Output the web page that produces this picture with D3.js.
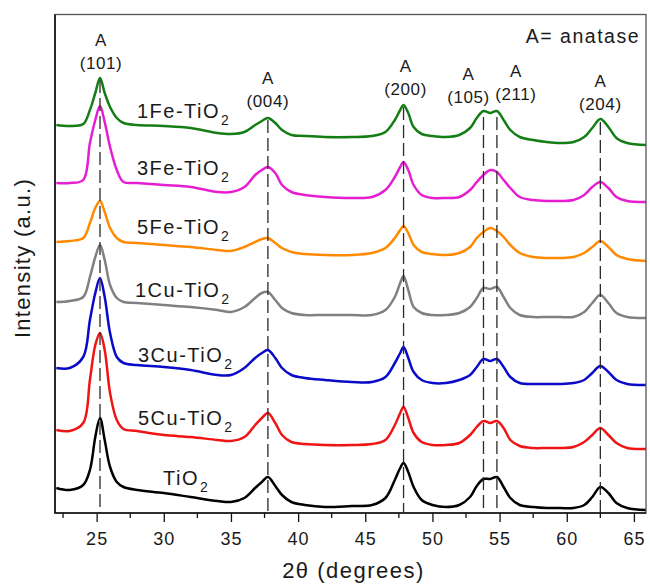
<!DOCTYPE html>
<html>
<head>
<meta charset="utf-8">
<script src="https://cdn.jsdelivr.net/npm/d3@7"></script>
<style>
    body { margin: 0; background: #fff; }
    text { font-family: Arial, "Liberation Sans", sans-serif; fill: #1a1a1a; }
</style>
</head>
<body>
<svg width="650" height="585"></svg>
<script>
    // 2-theta sample positions shared by every pattern
    var theta = [22, 23, 24, 24.5, 24.9, 25.25, 25.6, 26, 26.5, 27,
        28, 30, 32, 34, 35, 36, 36.8, 37.3, 37.75, 38.3,
        38.8, 39.5, 40.5, 42, 44, 45.5, 46.5, 47.2, 47.6, 47.85,
        48.2, 48.6, 49.2, 50, 51, 52, 52.8, 53.3, 53.8, 54.3,
        54.8, 55.3, 55.8, 56.5, 57.5, 58.5, 59.5, 60.5, 61.3, 61.9,
        62.5, 63.1, 63.7, 64.5, 65.9];

    // stacked intensities (offsets included)
    var fe1 = [388, 387, 389, 403, 420, 435, 420, 406, 395, 390,
        388, 387, 385, 380, 379, 381, 388, 392, 395, 390,
        383, 378, 377, 376, 376, 377, 381, 393, 403, 408,
        400, 386, 379, 377, 376, 378, 385, 395, 402, 400,
        402, 393, 383, 376, 373, 371, 370, 371, 376, 385,
        394, 386, 375, 370, 368];
    var fe3 = [330, 330, 333, 370, 393, 407, 391, 366, 343, 331,
        330, 328, 326, 321, 321, 326, 338, 343, 346, 340,
        328, 321, 318, 316, 315, 316, 323, 336, 346, 351,
        343, 328, 318, 315, 315, 316, 323, 331, 338, 343,
        341, 333, 325, 316, 313, 312, 312, 313, 318, 326,
        331, 325, 316, 312, 311];
    var fe5 = [271, 272, 275, 290, 305, 312, 301, 285, 275, 271,
        270, 268, 266, 263, 262, 266, 271, 274, 275, 270,
        265, 261, 259, 258, 258, 260, 265, 275, 283, 287,
        280, 268, 261, 259, 258, 260, 266, 275, 281, 285,
        282, 276, 268, 260, 256, 255, 255, 256, 260, 266,
        272, 266, 258, 254, 252];
    var cu1 = [211, 212, 216, 236, 256, 268, 253, 228, 215, 211,
        210, 208, 206, 203, 201, 206, 215, 220, 221, 213,
        205, 200, 198, 198, 198, 198, 203, 216, 230, 237,
        223, 206, 200, 198, 198, 200, 206, 215, 225, 224,
        226, 216, 205, 198, 196, 196, 196, 196, 201, 210,
        218, 210, 200, 196, 195];
    var cu3 = [145, 145, 156, 193, 220, 235, 216, 180, 156, 150,
        148, 146, 143, 138, 138, 145, 155, 160, 163, 155,
        145, 138, 135, 133, 131, 131, 136, 150, 160, 166,
        155, 141, 133, 130, 130, 133, 138, 146, 154, 152,
        154, 146, 136, 130, 129, 129, 129, 130, 133, 140,
        147, 141, 133, 129, 128];
    var cu5 = [83, 82, 90, 133, 168, 180, 163, 120, 93, 84,
        82, 78, 76, 73, 72, 76, 88, 95, 100, 90,
        78, 71, 69, 68, 68, 69, 73, 88, 100, 106,
        95, 80, 71, 68, 68, 70, 78, 86, 92, 90,
        92, 85, 73, 67, 65, 65, 65, 66, 71, 78,
        85, 78, 70, 65, 64];
    var tio2 = [25, 23, 28, 43, 76, 95, 73, 46, 31, 26,
        23, 20, 16, 12, 11, 15, 25, 31, 36, 27,
        18, 11, 8, 6, 7, 8, 15, 33, 45, 50,
        41, 26, 13, 8, 6, 8, 16, 27, 34, 34,
        36, 26, 15, 8, 6, 5, 5, 5, 8, 16,
        26, 20, 10, 5, 3];

    var sampleNames = ["1Fe-TiO", "3Fe-TiO", "5Fe-TiO", "1Cu-TiO", "3Cu-TiO", "5Cu-TiO", "TiO"];
    var sampleSeries = [fe1, fe3, fe5, cu1, cu3, cu5, tio2];
    var sampleColors = ["#157d15", "#e61ed2", "#ff8a00", "#808080", "#0a0ac8", "#f01414", "#000000"];

    var peakTheta = [25.25, 37.75, 47.85, 53.8, 54.8, 62.5];
    var peakHkl = ["(101)", "(004)", "(200)", "(105)", "(211)", "(204)"];
    var xTicks = [25, 30, 35, 40, 45, 50, 55, 60, 65];

    var svg = d3.select("svg"),
        plotLeft = 55, plotRight = 646, plotTop = 14.5, plotBottom = 513;

    var x = d3.scaleLinear().domain([21.9, 65.9]).range([plotLeft, plotRight]);
    var y = d3.scaleLinear().domain([0, 498.5]).range([plotBottom, plotTop]);

    svg.append("clipPath").attr("id", "plot")
        .append("rect").attr("x", plotLeft).attr("y", plotTop)
        .attr("width", plotRight - plotLeft).attr("height", plotBottom - plotTop);

    var line = d3.line()
        .x(function (d) { return x(d[0]); })
        .y(function (d) { return y(d[1]); })
        .curve(d3.curveCatmullRom.alpha(0.5));

    svg.append("g")
        .attr("clip-path", "url(#plot)")
        .selectAll("path")
        .data(sampleSeries)
        .enter()
            .append("path")
            .attr("d", function (s) { return line(s.map(function (v, i) { return [theta[i], v]; })); })
            .attr("fill", "none")
            .attr("stroke", function (s, i) { return sampleColors[i]; })
            .attr("stroke-width", 2.5)
            .attr("stroke-linejoin", "round");

    // dashed reference lines start at the top pattern's peak
    var dashTop = [80, 120, 107, 117, 117, 122];
    svg.append("g")
        .selectAll("line")
        .data(peakTheta)
        .enter()
            .append("line")
            .attr("x1", function (d) { return x(d); })
            .attr("x2", function (d) { return x(d); })
            .attr("y1", function (d, i) { return dashTop[i]; })
            .attr("y2", plotBottom)
            .attr("stroke", "#2a2a2a")
            .attr("stroke-width", 1.3)
            .attr("stroke-dasharray", "13,5");

    // frame
    svg.append("rect")
        .attr("x", plotLeft).attr("y", plotTop)
        .attr("width", plotRight - plotLeft).attr("height", plotBottom - plotTop)
        .attr("fill", "none").attr("stroke", "#555").attr("stroke-width", 1.3);
    svg.append("path")
        .attr("d", "M" + plotLeft + "," + plotTop + "V" + plotBottom + "H" + plotRight)
        .attr("fill", "none").attr("stroke", "#111").attr("stroke-width", 1.6);

    var xAxis = d3.axisBottom(x).tickValues(xTicks).tickSize(9).tickPadding(10).tickFormat(d3.format("d"));
    var gx = svg.append("g").attr("transform", "translate(0," + plotBottom + ")").call(xAxis);
    gx.select(".domain").remove();
    gx.selectAll("line").attr("stroke", "#111").attr("stroke-width", 1.3);
    gx.selectAll("text").attr("font-size", 18).attr("letter-spacing", 1).attr("fill", "#1a1a1a")
        .style("font-family", "Arial, 'Liberation Sans', sans-serif");

    var minor = d3.range(22.5, 65.9, 5);
    svg.append("g").selectAll("line").data(minor).enter()
        .append("line")
        .attr("x1", function (d) { return x(d); }).attr("x2", function (d) { return x(d); })
        .attr("y1", plotBottom).attr("y2", plotBottom + 5)
        .attr("stroke", "#111").attr("stroke-width", 1.3);

    svg.append("text")
        .attr("x", (plotLeft + plotRight) / 2 + 3).attr("y", 578)
        .attr("text-anchor", "middle")
        .attr("font-size", 22).attr("letter-spacing", 1.5)
        .text("2\u03b8 (degrees)");

    svg.append("text")
        .attr("transform", "translate(30,258) rotate(-90)")
        .attr("text-anchor", "middle")
        .attr("font-size", 22).attr("letter-spacing", 1.3)
        .text("Intensity (a.u.)");

    // sample names with subscript 2
    var nameX = [137, 137, 137, 135, 138, 138, 163];
    var nameY = [118, 175, 234, 297, 362, 425, 485];
    sampleNames.forEach(function (name, i) {
        var t = svg.append("text")
            .attr("x", nameX[i]).attr("y", nameY[i])
            .attr("font-size", 20).attr("letter-spacing", 1.5);
        t.append("tspan").text(name);
        t.append("tspan").attr("font-size", 14).attr("dy", 7).attr("dx", 1).text("2");
    });

    // peak annotations
    var hklShift = [1, 0, 2, -15, 19, 0];
    var aY = [45.5, 83.5, 72, 79.5, 76.5, 87];
    var hklY = [68.5, 107, 95, 103, 99.5, 110];
    var ann = svg.append("g").attr("font-size", 17).attr("text-anchor", "middle");
    peakTheta.forEach(function (p, i) {
        var cx = x(p) + hklShift[i];
        ann.append("text").attr("x", cx).attr("y", aY[i]).attr("letter-spacing", 0.5).text("A");
        ann.append("text").attr("x", cx).attr("y", hklY[i]).attr("letter-spacing", 0.6).text(peakHkl[i]);
    });

    svg.append("text")
        .attr("x", 640).attr("y", 42.5)
        .attr("text-anchor", "end")
        .attr("font-size", 19.5).attr("letter-spacing", 1.5)
        .attr("fill", "#111")
        .text("A= anatase");
</script>
</body>
</html>
